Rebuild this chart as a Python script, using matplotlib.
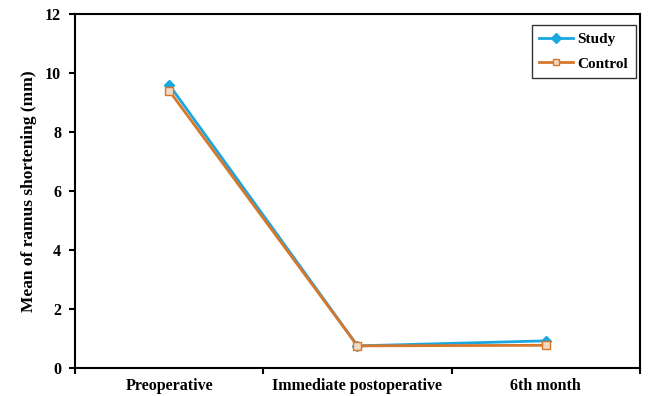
import numpy as np
import matplotlib.pyplot as plt
from matplotlib.ticker import FixedLocator, NullFormatter, FixedFormatter

categories = ["Preoperative", "Immediate postoperative", "6th month"]
study = [9.6, 0.75, 0.92]
control = [9.4, 0.75, 0.77]

plt.rcParams["font.family"] = ["Liberation Serif", "DejaVu Serif"]
plt.rcParams["font.weight"] = "bold"

fig = plt.figure(figsize=(6.49, 3.96), dpi=100)
ax = fig.add_axes([0.1156, 0.0707, 0.8704, 0.894])

x = np.arange(len(categories)) + 0.5
ax.plot(x, study, color="#1aa7e0", lw=2, marker="D", ms=5.5,
        mfc="#1aa7e0", mec="#1aa7e0", label="Study", zorder=3)
ax.plot(x, control, color="#d8772a", lw=2, marker="s", ms=5.5,
        mfc="#f3d9c2", mec="#d8772a", label="Control", zorder=4)

ax.set_xlim(0, len(categories))
ax.set_ylim(0, 12)
ax.set_yticks(range(0, 13, 2))
ax.xaxis.set_major_locator(FixedLocator(range(len(categories) + 1)))
ax.xaxis.set_major_formatter(NullFormatter())
ax.xaxis.set_minor_locator(FixedLocator(x))
ax.xaxis.set_minor_formatter(FixedFormatter(categories))
ax.tick_params(axis="x", which="major", direction="out", length=4, width=1.5)
ax.tick_params(axis="x", which="minor", length=0, pad=7, labelsize=11.5)
ax.tick_params(axis="y", direction="out", length=4, width=1.5, labelsize=11.5, pad=6)
for s in ax.spines.values():
    s.set_linewidth(1.5)

ax.set_ylabel("Mean of ramus shortening (mm)", fontsize=12.5, fontweight="bold", labelpad=6)

leg = ax.legend(loc="upper right", bbox_to_anchor=(0.993, 0.969), borderaxespad=0,
                fontsize=11, frameon=True, fancybox=False, edgecolor="black",
                handlelength=2.2, handletextpad=0.3, labelspacing=0.7,
                borderpad=0.5, markerscale=0.9)
leg.get_frame().set_linewidth(1)

fig.savefig("out.png", dpi=100)
